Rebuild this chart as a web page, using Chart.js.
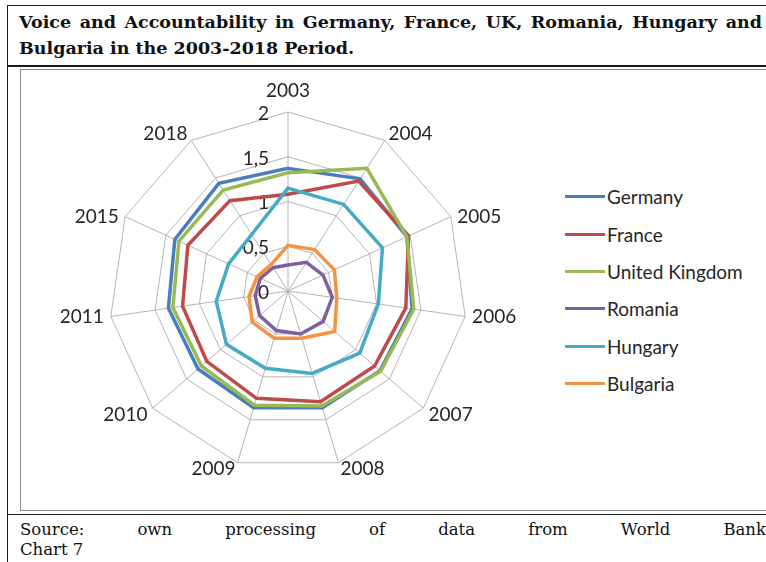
<!DOCTYPE html>
<html>
<head>
<meta charset="utf-8">
<title>Voice and Accountability 2003-2018</title>
<script src="https://cdn.jsdelivr.net/npm/chart.js@4.4.1/dist/chart.umd.min.js"></script>
<style>
  html, body { margin: 0; padding: 0; background: #fff; }
  body { width: 766px; height: 562px; position: relative; overflow: hidden; }
  .rule { position: absolute; background: #1a1a1a; }
  .serif { font-family: "DejaVu Serif", serif; color: #111; }
  .title { position: absolute; left: 19px; width: 743px; font-size: 17.5px; font-weight: bold; line-height: 26px; white-space: nowrap; }
  .justify { text-align: justify; text-align-last: justify; white-space: normal; }
  .source { position: absolute; left: 20px; width: 746px; font-size: 16.5px; line-height: 20px; }
  .chartbox { position: absolute; left: 20px; top: 69px; width: 760px; height: 442px; border: 1px solid #8c8c8c; box-sizing: border-box; }
  #radar { position: absolute; left: 20px; top: 69px; }
  #legend { position: absolute; left: 565px; top: 178px; font-family: Lato, sans-serif; font-size: 19px; color: #262626; }
  #legend .item { height: 37.4px; display: flex; align-items: center; }
  #legend .swatch { width: 40px; height: 3px; margin-right: 2px; }
</style>
</head>
<body>
<div class="rule" style="left:7px; top:5px; width:759px; height:1px;"></div>
<div class="rule" style="left:7px; top:5px; width:1px; height:557px;"></div>
<div class="rule" style="left:7px; top:65px; width:759px; height:2px;"></div>
<div class="rule" style="left:7px; top:514px; width:759px; height:1px;"></div>

<div class="serif title justify" style="top:9px;">Voice and Accountability in Germany, France, UK, Romania, Hungary and</div>
<div class="serif title" style="top:35px;">Bulgaria in the 2003-2018 Period.</div>

<div class="chartbox"></div>
<canvas id="radar" width="540" height="442"></canvas>
<div id="legend"></div>

<div class="serif source justify" style="top:520px;">Source: own processing of data from World Bank</div>
<div class="serif source" style="top:540px;">Chart 7</div>

<script>
// Voice and Accountability estimates, by year
const years = ['2003', '2004', '2005', '2006', '2007', '2008', '2009', '2010', '2011', '2015', '2018'];

const germany  = [1.37, 1.49, 1.46, 1.40, 1.36, 1.36, 1.36, 1.33, 1.35, 1.39, 1.43];
const france   = [1.08, 1.46, 1.48, 1.33, 1.28, 1.29, 1.25, 1.20, 1.19, 1.23, 1.20];
const uk       = [1.32, 1.63, 1.46, 1.42, 1.37, 1.34, 1.33, 1.28, 1.30, 1.34, 1.34];
const romania  = [0.29, 0.38, 0.43, 0.50, 0.52, 0.50, 0.46, 0.42, 0.37, 0.34, 0.31];
const hungary  = [1.15, 1.15, 1.16, 1.02, 1.06, 0.96, 0.90, 0.91, 0.81, 0.73, 0.75];
const bulgaria = [0.51, 0.55, 0.57, 0.55, 0.69, 0.55, 0.55, 0.53, 0.44, 0.38, 0.35];

const countries = ['Germany', 'France', 'United Kingdom', 'Romania', 'Hungary', 'Bulgaria'];
const seriesColors = ['#4A7EBB', '#BE4B48', '#98B954', '#7D60A0', '#46AAC5', '#F69240'];
const seriesValues = [germany, france, uk, romania, hungary, bulgaria];

// radial axis
const tickValues = [0, 0.5, 1, 1.5, 2];
const tickLabels = ['0', '0,5', '1', '1,5', '2'];

const labelFont = '19px Lato, sans-serif';
const labelColor = '#262626';
const capHeight = 13.6;   // digit height at 19px

const datasets = countries.map((name, i) => ({
  label: name,
  data: seriesValues[i],
  borderColor: seriesColors[i],
  backgroundColor: seriesColors[i],
  fill: false,
  order: countries.length - i   // later series drawn on top
}));

// value labels along the 2003 spoke, right aligned left of the axis
const radialTickLabels = {
  id: 'radialTickLabels',
  beforeDatasetsDraw(chart) {
    const scale = chart.scales.r;
    const ctx = chart.ctx;
    ctx.save();
    ctx.font = labelFont;
    ctx.fillStyle = labelColor;
    ctx.textAlign = 'right';
    ctx.textBaseline = 'alphabetic';
    tickValues.forEach((v, i) => {
      const dist = scale.getDistanceFromCenterForValue(v);
      ctx.fillText(tickLabels[i], scale.xCenter - 19, scale.yCenter - dist + capHeight / 2 + 1);
    });
    ctx.restore();
  }
};

// year labels outside the outer ring: side labels sit level with the spoke end,
// upper ones rest on it, lower ones hang from it
const yearLabels = {
  id: 'yearLabels',
  afterDraw(chart) {
    const scale = chart.scales.r;
    const ctx = chart.ctx;
    const r = scale.drawingArea;
    ctx.save();
    ctx.font = labelFont;
    ctx.fillStyle = labelColor;
    ctx.textBaseline = 'alphabetic';
    chart.data.labels.forEach((label, i) => {
      const tip = scale.getPointPosition(i, r);
      const out = scale.getPointPosition(i, r + 7);
      const a = scale.getIndexAngle(i);
      const s = Math.sin(a), c = Math.cos(a);
      if (Math.abs(s) < 1e-6) {
        ctx.textAlign = 'center';
        ctx.fillText(label, tip.x, tip.y - 15);
        return;
      }
      ctx.textAlign = s > 0 ? 'left' : 'right';
      let y;
      if (c > 0.5) y = tip.y;
      else if (c < -0.5) y = tip.y - 1 + capHeight;
      else y = tip.y + capHeight / 2;
      ctx.fillText(label, out.x, y);
    });
    ctx.restore();
  }
};

new Chart(document.getElementById('radar'), {
  type: 'radar',
  data: { labels: years, datasets },
  options: {
    responsive: false,
    animation: false,
    layout: { padding: { left: 68, right: 72, top: 43, bottom: 41 } },
    plugins: {
      legend: { display: false },
      tooltip: { enabled: false }
    },
    elements: {
      line: { borderWidth: 3.5, tension: 0 },
      point: { radius: 0, hoverRadius: 0 }
    },
    scales: {
      r: {
        min: 0,
        max: 2,
        ticks: { display: false, stepSize: 0.5 },
        grid: { color: '#b4b4b4', lineWidth: 1 },
        angleLines: { color: '#b4b4b4', lineWidth: 1 },
        pointLabels: { display: false }
      }
    }
  },
  plugins: [radialTickLabels, yearLabels]
});

// legend on the right, one row per series
const legend = document.getElementById('legend');
countries.forEach((name, i) => {
  const row = document.createElement('div');
  row.className = 'item';
  const sw = document.createElement('span');
  sw.className = 'swatch';
  sw.style.background = seriesColors[i];
  const txt = document.createElement('span');
  txt.textContent = name;
  row.appendChild(sw);
  row.appendChild(txt);
  legend.appendChild(row);
});
</script>
</body>
</html>
